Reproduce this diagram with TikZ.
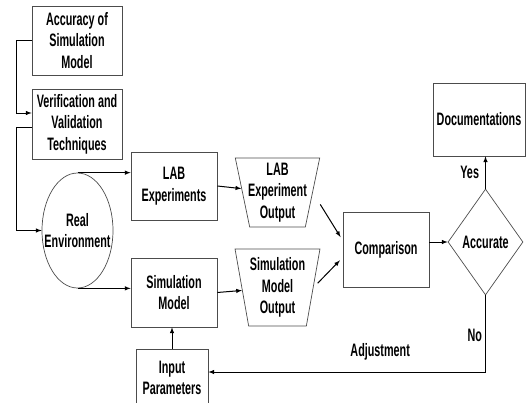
\documentclass[tikz,border=0pt]{standalone}
\usepackage{fontspec}
\setmainfont[FakeStretch=0.6]{Liberation Sans}
\usetikzlibrary{arrows}
\usetikzlibrary{shapes.geometric}

\tikzset{
  box/.style={draw=black!70, line width=0.7pt, rectangle, align=center, inner sep=0pt},
  outbox/.style={draw=black!70, line width=0.7pt, trapezium, shape border rotate=180,
    trapezium stretches=true, align=center, inner sep=0pt},
  link/.style={-latex, line width=1pt},
  tag/.style={inner sep=1pt},
}

\begin{document}
\begin{tikzpicture}[x=1pt, y=-1pt, font=\fontsize{18}{21.5}\selectfont\bfseries]
    \clip (0,0) rectangle (526,402);

    \node[box, minimum width=90pt, minimum height=69pt] (accuracy) at (77,40.5) {Accuracy of\\Simulation\\Model};
    \node[box, minimum width=90pt, minimum height=70pt] (verif) at (77,124) {Verification and\\Validation\\Techniques};
    \node[ellipse, draw=black!70, line width=0.7pt, minimum width=71pt, minimum height=115pt,
          inner xsep=-10pt, align=center] (realenv) at (77.5,230.5) {Real\\Environment};
    \node[box, minimum width=86pt, minimum height=68pt] (labexp) at (174,186) {LAB\\Experiments};
    \node[box, minimum width=86pt, minimum height=69pt] (simmodel) at (174,292.5) {Simulation\\Model};
    \node[outbox, trapezium angle=77, minimum width=85pt, minimum height=69pt, inner xsep=-3pt] (labout) at (277.5,192.5) {LAB\\Experiment\\Output};
    \node[outbox, trapezium angle=79, minimum width=85pt, minimum height=77pt, inner xsep=-3pt] (simout) at (277.5,287.5) {Simulation\\Model\\Output};
    \node[box, minimum width=86pt, minimum height=75pt] (compare) at (386,249.5) {Comparison};
    \node[diamond, draw=black!70, line width=0.7pt, minimum width=75pt, minimum height=106pt,
          inner sep=0pt] (accurate) at (485.5,242) {Accurate};
    \node[box, minimum width=92pt, minimum height=73pt] (docs) at (479,119.5) {Documentations};
    \node[box, minimum width=72pt, minimum height=58pt] (input) at (172,378) {Input\\Parameters};

    \draw[link] (accuracy.west) -- ++(-15,0) |- ([yshift=11pt]verif.west);
    \draw[link] ([yshift=-3pt]verif.west) -- ++(-15,0) |- (realenv.west);
    \draw[link] (realenv.north) -- (realenv.north -| labexp.west);
    \draw[link] (realenv.south) -- (realenv.south -| simmodel.west);
    \draw[link] (labexp.east) -- (labout);
    \draw[link] (simmodel.east) -- (simout);
    \draw[link, shorten <=14pt, shorten >=4pt] (labout.east) -- ([yshift=9pt]compare.west);
    \draw[link, shorten <=6pt, shorten >=4pt] (simout.east) -- ([yshift=-8pt]compare.west);
    \draw[link] (compare.east |- accurate.west) -- (accurate.west);
    \draw[link] (accurate.north) -- (accurate.north |- docs.south) node[tag, pos=0.5, left=5pt] {Yes};
    \draw[link] (accurate.south) |- ([yshift=6pt]input.east)
        node[tag, pos=0.26, left=2pt] {No}
        node[tag, pos=0.69, above=10pt] {Adjustment};
    \draw[link] (input.north) -- (input.north |- simmodel.south);
\end{tikzpicture}
\end{document}
